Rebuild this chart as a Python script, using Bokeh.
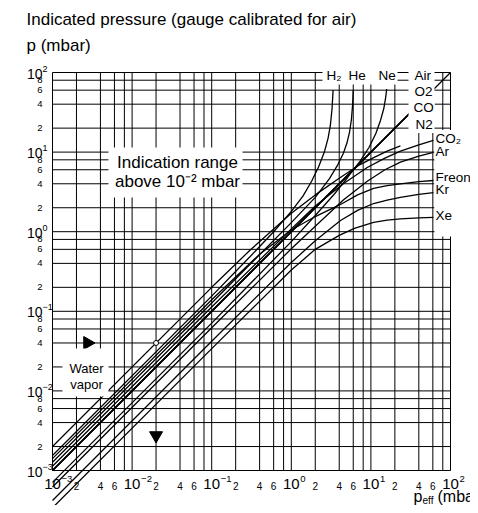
import math
from bokeh.plotting import figure
from bokeh.models import Label, BoxAnnotation, Range1d
from bokeh.embed import file_html
from bokeh.resources import INLINE

FONT = "Liberation Sans"

# ---------------- data ----------------
decades = [1e-3, 1e-2, 1e-1, 1e0, 1e1, 1e2]
decade_exp = ["\u22123", "\u22122", "\u22121", "0", "1", "2"]
grid_mults = [1, 2, 4, 6, 8]
x_minor_labels = [2, 4, 6]
y_minor_labels = [2, 4, 6, 8]

# air, O2, CO, N2 practically coincide (gauge calibrated for air)
air_eff = [1e-3, 1e2]
air_ind = [1e-3, 1e2]
o2_eff = [1e-3, 40]
o2_ind = [1e-3, 40]
co_eff = [1e-3, 40]
co_ind = [1e-3, 40]
n2_eff = [1e-3, 40]
n2_ind = [1e-3, 40]

h2_eff = [1e-3, 0.1, 0.3, 0.6, 1.0, 1.4, 1.8, 2.2, 2.6, 2.9, 3.1, 3.25, 3.35]
h2_ind = [1.54e-3, 0.155, 0.48, 1.0, 1.8, 2.8, 4.3, 6.5, 10, 15, 22, 35, 60]
he_eff = [1e-3, 0.1, 1.0, 2.0, 3.0, 3.8, 4.5, 5.0, 5.4, 5.7, 5.9, 6.0]
he_ind = [1.27e-3, 0.127, 1.3, 2.7, 4.6, 6.8, 9.6, 13, 18, 26, 40, 60]
ne_eff = [1e-3, 0.1, 1.0, 2.0, 3.5, 5.1, 7.4, 9.5, 11.5, 13.2, 14.5, 15.3, 15.8]
ne_ind = [7.1e-4, 0.071, 0.75, 1.6, 3.0, 4.8, 7.8, 11.5, 17, 25, 35, 48, 62]
co2_eff = [1e-3, 0.1, 1, 2, 4.5, 9, 15, 23.5, 40, 61]
co2_ind = [1.13e-3, 0.113, 1.08, 2.1, 4.0, 6.4, 8.4, 10.3, 12.3, 14]
h2o_eff = [1e-3, 0.1, 0.3, 1, 2, 4, 7, 11, 16, 23.5]
h2o_ind = [2e-3, 0.2, 0.58, 1.7, 2.9, 4.7, 6.8, 8.6, 10.3, 12]
ar_eff = [1e-3, 0.1, 1, 2, 4.5, 9, 15, 23.5, 40, 61]
ar_ind = [6.2e-4, 0.062, 0.61, 1.17, 2.5, 4.3, 6.0, 7.5, 8.9, 9.9]
freon_eff = [1e-3, 0.1, 0.4, 1, 2, 4.15, 6.8, 10.8, 16, 23.5, 40, 61]
freon_ind = [1.41e-3, 0.14, 0.52, 1.05, 1.55, 2.2, 2.9, 3.5, 3.8, 4.0, 4.25, 4.4]
kr_eff = [1e-3, 0.1, 1, 2, 4.15, 6.8, 10.8, 16, 23.5, 40, 61]
kr_ind = [4.2e-4, 0.042, 0.41, 0.77, 1.38, 1.85, 2.26, 2.5, 2.7, 2.95, 3.1]
xe_eff = [1e-3, 0.1, 1, 2, 4, 6.2, 10.8, 16, 23.5, 40, 61]
xe_ind = [3.4e-4, 0.034, 0.33, 0.6, 0.9, 1.1, 1.31, 1.4, 1.45, 1.49, 1.51]

water_example_eff = 2e-2
water_example_ind = 4e-2

curves = [
    (air_eff, air_ind), (o2_eff, o2_ind), (co_eff, co_ind), (n2_eff, n2_ind),
    (h2_eff, h2_ind), (he_eff, he_ind), (ne_eff, ne_ind), (co2_eff, co2_ind),
    (h2o_eff, h2o_ind), (ar_eff, ar_ind), (freon_eff, freon_ind),
    (kr_eff, kr_ind), (xe_eff, xe_ind),
]

# ---------------- geometry ----------------
W, H = 470, 505
FL, FR, FT, FB = 52, 450, 72, 470  # plot area in canvas pixels


def X(px):
    return 10 ** (-3 + 5 * (px - FL) / (FR - FL))


def Y(py):
    return 10 ** (-3 + 5 * (FB - py) / (FB - FT))


p = figure(width=W, height=H, x_axis_type="log", y_axis_type="log",
           x_range=Range1d(X(0), X(W)), y_range=Range1d(Y(H), Y(0)),
           output_backend="svg", toolbar_location=None,
           min_border_left=0, min_border_right=0,
           min_border_top=0, min_border_bottom=0)
p.axis.visible = False
p.grid.visible = False
p.outline_line_color = None
p.background_fill_color = "white"
p.border_fill_color = "white"

lo, hi = decades[0], decades[-1]
grid_ticks = [m * d for d in decades[:-1] for m in grid_mults] + [hi]
p.segment(x0=grid_ticks, y0=[lo] * len(grid_ticks), x1=grid_ticks, y1=[hi] * len(grid_ticks),
          line_color="black", line_width=1)
p.segment(x0=[lo] * len(grid_ticks), y0=grid_ticks, x1=[hi] * len(grid_ticks), y1=grid_ticks,
          line_color="black", line_width=1)

for xs, ys in curves:
    p.line(xs, ys, line_color="black", line_width=1.3)

# water vapor example
p.scatter([water_example_eff], [water_example_ind], marker="circle", size=5,
          fill_color="white", line_color="black", line_width=1)
p.scatter([X(87)], [water_example_ind], marker="triangle", angle=-math.pi / 2,
          size=13, fill_color="black", line_color="black")
p.scatter([water_example_eff], [Y(435)], marker="inverted_triangle",
          size=13, fill_color="black", line_color="black")

# white masks behind labels
for l, r, t, b in [(108, 242, 147, 197), (62, 108, 348, 396),
                   (322, 397, 64, 84),
                   (408, 434, 64, 132), (434, 470, 130, 236)]:
    p.add_layout(BoxAnnotation(left=X(l), right=X(r), top=Y(t), bottom=Y(b),
                               fill_color="white", fill_alpha=1, line_color=None))


def txt(px, py, text, size, align="left", baseline="middle", bg=None, pad=0):
    lab = Label(x=X(px), y=Y(py), text=text, text_font=FONT,
                text_font_size=f"{size}px", text_align=align,
                text_baseline=baseline, text_color="black")
    if bg:
        lab.background_fill_color = bg
        lab.padding = pad
    p.add_layout(lab)


# titles
txt(26, 19, "Indicated pressure (gauge calibrated for air)", 17)
txt(26, 45, "p (mbar)", 17)
txt(413, 496, "p", 16)
txt(422, 500, "eff", 10)
txt(437, 496, "(mbar)", 16)

# x tick labels
for i, d in enumerate(decades):
    px = FL + (FR - FL) * i / 5
    txt(px, 483, "10", 15, align="center")
    txt(px + 9, 478, decade_exp[i], 9.5)
    if i < 5:
        for m in x_minor_labels:
            mx = FL + (FR - FL) * (i + math.log10(m)) / 5
            txt(mx, 485, str(m), 10, align="center")

# y tick labels
for i, d in enumerate(decades):
    py = FB - (FB - FT) * i / 5
    txt(42, py + 1, "10", 14, align="right")
    txt(42, py - 4, decade_exp[i], 9)
    if i < 5:
        for m in y_minor_labels:
            my = FB - (FB - FT) * (i + math.log10(m)) / 5
            txt(42, my, str(m), 9.5, align="right")

# annotations in plot
txt(177, 162, "Indication range", 17, align="center")
txt(177, 181, "above 10\u207b\u00b2 mbar", 17, align="center")
txt(86, 368, "Water", 13, align="center")
txt(86, 384, "vapor", 13, align="center")

# gas labels
txt(325, 75, "H\u2082", 13.5, bg="white", pad=1)
txt(347, 75, "He", 13.5, bg="white", pad=1)
txt(377, 75, "Ne", 13.5, bg="white", pad=1)
txt(413, 75, "Air", 13.5, bg="white", pad=1)
txt(413, 91, "O2", 13.5, bg="white", pad=1)
txt(412, 107, "CO", 13.5, bg="white", pad=1)
txt(414, 124, "N2", 13.5, bg="white", pad=1)
txt(434, 138, "CO\u2082", 13.5, bg="white", pad=1)
txt(434, 151, "Ar", 13.5, bg="white", pad=1)
txt(434, 177, "Freon 12", 13.5, bg="white", pad=1)
txt(434, 189, "Kr", 13.5, bg="white", pad=1)
txt(434, 215, "Xe", 13.5, bg="white", pad=1)

open("out.html", "w").write(file_html(p, INLINE))
